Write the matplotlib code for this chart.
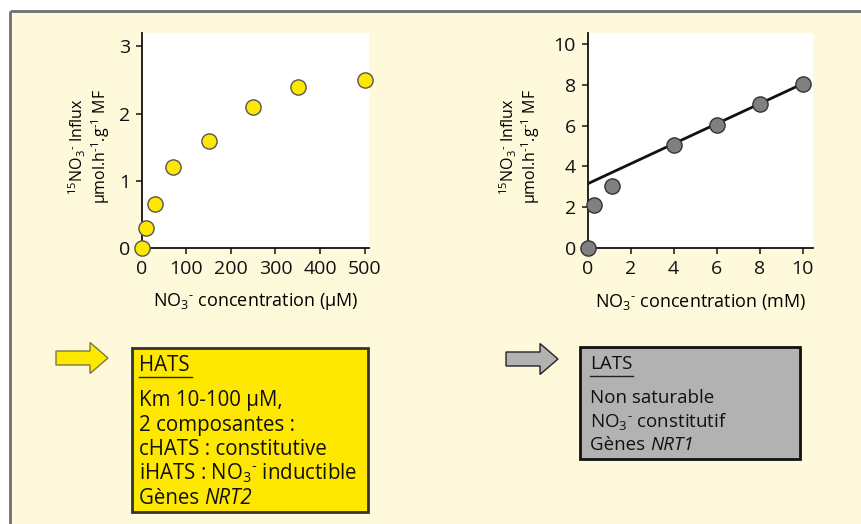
import matplotlib
matplotlib.use("Agg")
import matplotlib.pyplot as plt
from matplotlib.patches import Rectangle, Polygon

FONT = 'Open Sans'
plt.rcParams['font.family'] = [FONT, 'DejaVu Sans']
plt.rcParams['mathtext.fontset'] = 'custom'
plt.rcParams['mathtext.rm'] = FONT
plt.rcParams['mathtext.it'] = FONT + ':italic'
plt.rcParams['mathtext.bf'] = FONT + ':bold'

# ---- data ----
hats_conc = [0, 10, 30, 70, 150, 250, 350, 500]          # µM
hats_influx = [0, 0.30, 0.65, 1.20, 1.60, 2.10, 2.40, 2.50]
hats_xticks = [0, 100, 200, 300, 400, 500]
hats_yticks = [0, 1, 2, 3]

lats_conc = [0, 0.3, 1.15, 4, 6, 8, 10]                   # mM
lats_influx = [0, 2.12, 3.02, 5.05, 6.05, 7.05, 8.05]
lats_fit_x = [0, 10]
lats_fit_y = [3.15, 8.05]
lats_xticks = [0, 2, 4, 6, 8, 10]
lats_yticks = [0, 2, 4, 6, 8, 10]

ylabel_1 = r"$^{15}$NO$_3$$^{\text{-}}$ Influx"
ylabel_2 = r"µmol.h$^{\text{-}1}$.g$^{\text{-}1}$ MF"
xlabel_hats = r"NO$_3$$^{\text{-}}$ concentration (µM)"
xlabel_lats = r"NO$_3$$^{\text{-}}$ concentration (mM)"

hats_title = "HATS"
hats_lines = ["Km 10-100 µM,", "2 composantes :", "cHATS : constitutive",
              r"iHATS : NO$_3$$^{\text{-}}$ inductible", ("Gènes ", "NRT2")]
lats_title = "LATS"
lats_lines = ["Non saturable", r"NO$_3$$^{\text{-}}$ constitutif", ("Gènes ", "NRT1")]

W, H = 862, 524
fig = plt.figure(figsize=(W / 100, H / 100), dpi=100)
fig.patch.set_facecolor('white')

# background overlay in pixel coordinates
bg = fig.add_axes([0, 0, 1, 1], zorder=0)
bg.set_xlim(0, W)
bg.set_ylim(H, 0)
bg.axis('off')
bg.add_patch(Rectangle((10, 11), W, H, facecolor='#FFF9DC', edgecolor='none'))
bg.plot([10, 10], [H, 11], color='#6e6e6e', lw=2, solid_capstyle='butt')
bg.plot([10, W], [11, 11], color='#6e6e6e', lw=2, solid_capstyle='butt')

YEL = '#FFE800'
GRY = '#B2B2B2'


def add_arrow(x0, x1, yc, color, edge):
    shaft = 7
    head = 15.5
    hx = x1 - 18
    pts = [(x0, yc - shaft), (hx, yc - shaft), (hx, yc - head), (x1, yc),
           (hx, yc + head), (hx, yc + shaft), (x0, yc + shaft)]
    bg.add_patch(Polygon(pts, closed=True, facecolor=color, edgecolor=edge, lw=1.0))


def box_line(x, y, item, fs):
    if isinstance(item, tuple):
        t = bg.text(x, y, item[0], fontsize=fs, va='baseline', ha='left', color='#111111')
        bg.annotate(item[1], xy=(1, 0), xycoords=t, va='bottom', ha='left',
                    fontsize=fs, style='italic', color='#111111')
    else:
        bg.text(x, y, item, fontsize=fs, va='baseline', ha='left', color='#111111')


add_arrow(56, 108, 358, YEL, '#7a7a3a')
add_arrow(506, 558, 359, GRY, '#222222')

# HATS box
HFS = 14.8
bg.add_patch(Rectangle((132, 348), 236, 164, facecolor=YEL, edgecolor='#333333', lw=2))
bg.text(139, 371, hats_title, fontsize=HFS, va='baseline', ha='left', color='#111111')
bg.plot([139, 192], [377, 377], color='#222222', lw=1)
for i, s in enumerate(hats_lines):
    box_line(139, 406 + i * 24.6, s, HFS)

# LATS box
LFS = 13.5
bg.add_patch(Rectangle((580, 347), 220, 112, facecolor=GRY, edgecolor='#111111', lw=2))
bg.text(590, 369, lats_title, fontsize=LFS, va='baseline', ha='left', color='#111111')
bg.plot([590, 633], [376, 376], color='#222222', lw=1)
for i, s in enumerate(lats_lines):
    box_line(590, 403 + i * 23.5, s, LFS)


def make_axes(px0, px1, py_top, py_bot):
    return fig.add_axes([px0 / W, (H - py_bot) / H, (px1 - px0) / W, (py_bot - py_top) / H], zorder=1)


def style(ax):
    ax.set_facecolor('white')
    for s in ['top', 'right']:
        ax.spines[s].set_visible(False)
    for s in ['left', 'bottom']:
        ax.spines[s].set_linewidth(1.3)
        ax.spines[s].set_color('#111111')
    ax.tick_params(direction='out', length=4.5, width=1.1, labelsize=14, pad=4,
                   color='#111111', labelcolor='#111111')


# left plot
ax1 = make_axes(141.7, 369, 33, 248)
style(ax1)
ax1.scatter(hats_conc, hats_influx, s=120, facecolor=YEL, edgecolor='#555555', lw=1.0,
            zorder=3, clip_on=False)
ax1.set_xlim(0, 510)
ax1.set_ylim(0, 3.2)
ax1.set_xticks(hats_xticks)
ax1.set_yticks(hats_yticks)
ax1.text(-0.285, 0.474, ylabel_1, transform=ax1.transAxes, rotation=90,
         ha='center', va='center', fontsize=11.5)
ax1.text(-0.18, 0.474, ylabel_2, transform=ax1.transAxes, rotation=90,
         ha='center', va='center', fontsize=11.5)
ax1.text(0.5, -0.251, xlabel_hats, transform=ax1.transAxes, ha='center', va='center',
         fontsize=13)

# right plot
ax2 = make_axes(587.7, 813.3, 33, 248)
style(ax2)
ax2.plot(lats_fit_x, lats_fit_y, color='#111111', lw=2, zorder=2)
ax2.scatter(lats_conc, lats_influx, s=120, facecolor='#808080', edgecolor='#333333', lw=1.0,
            zorder=3, clip_on=False)
ax2.set_xlim(0, 10.5)
ax2.set_ylim(0, 10.54)
ax2.set_xticks(lats_xticks)
ax2.set_yticks(lats_yticks)
ax2.text(-0.353, 0.474, ylabel_1, transform=ax2.transAxes, rotation=90,
         ha='center', va='center', fontsize=11.5)
ax2.text(-0.251, 0.474, ylabel_2, transform=ax2.transAxes, rotation=90,
         ha='center', va='center', fontsize=11.5)
ax2.text(0.5, -0.251, xlabel_lats, transform=ax2.transAxes, ha='center', va='center',
         fontsize=13)

fig.savefig('out.png', dpi=100, facecolor=fig.get_facecolor())
